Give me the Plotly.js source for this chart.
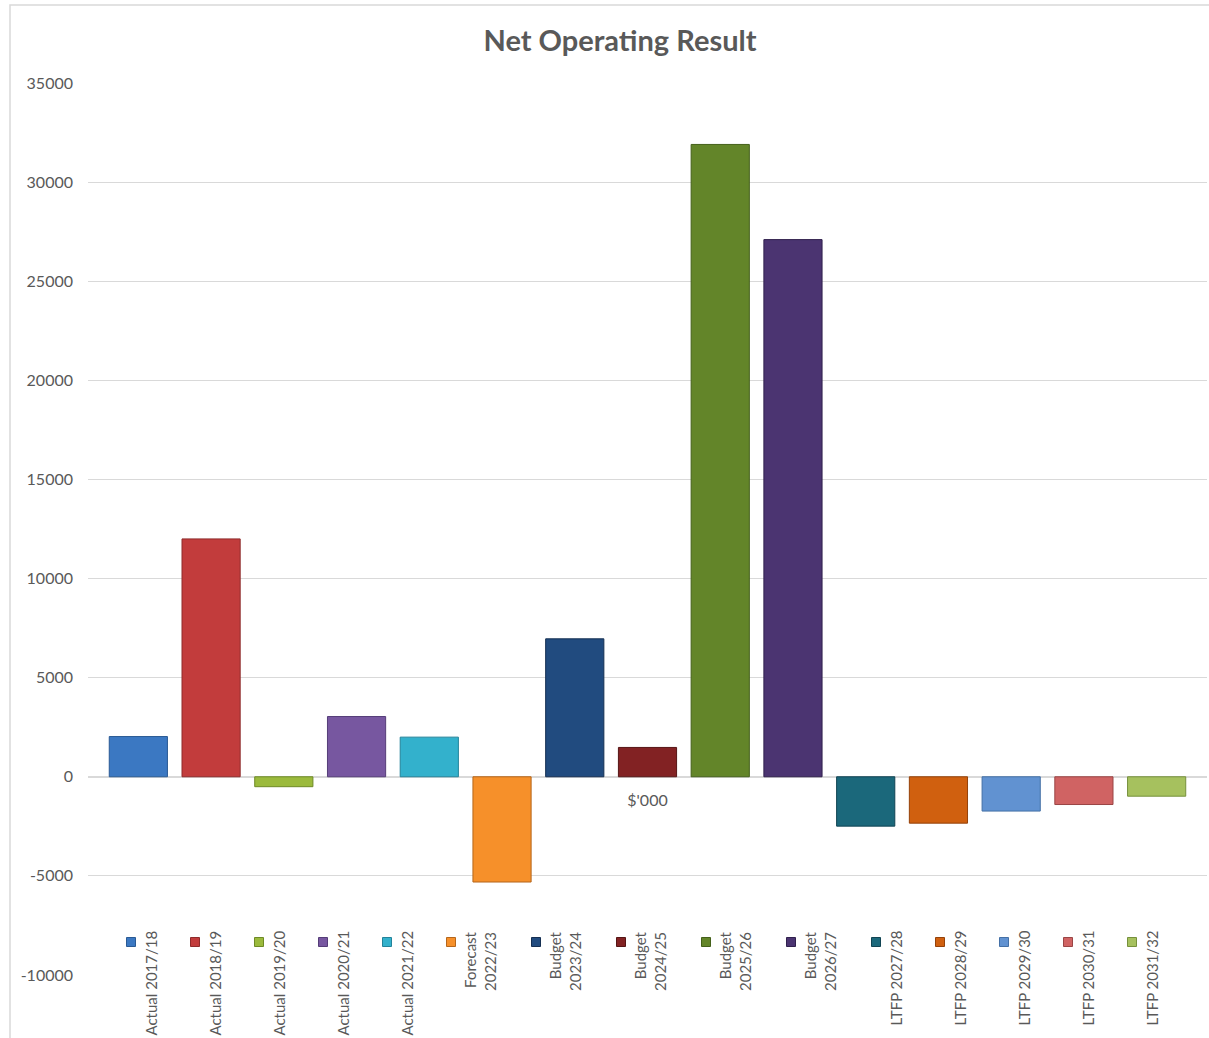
<!DOCTYPE html>
<html>
<head>
<meta charset="utf-8">
<script src="https://cdn.plot.ly/plotly-3.0.1.min.js"></script>
<style>
  html, body { margin: 0; padding: 0; background: #ffffff; overflow: hidden; }
  #chart { width: 1209px; height: 1038px; }
</style>
</head>
<body>
<div id="chart"></div>
<script>
// ---- data ----
const chartTitle = 'Net Operating Result';
const category = ["$'000"];
const seriesNames = [
  'Actual 2017/18', 'Actual 2018/19', 'Actual 2019/20', 'Actual 2020/21', 'Actual 2021/22',
  'Forecast<br>2022/23', 'Budget<br>2023/24', 'Budget<br>2024/25', 'Budget<br>2025/26', 'Budget<br>2026/27',
  'LTFP 2027/28', 'LTFP 2028/29', 'LTFP 2029/30', 'LTFP 2030/31', 'LTFP 2031/32'
];
const seriesValues = [2030, 12000, -500, 3040, 2000, -5310, 6960, 1480, 31900, 27100, -2490, -2340, -1730, -1400, -980];
const yTickVals = [-10000, -5000, 0, 5000, 10000, 15000, 20000, 25000, 30000, 35000];
const yTickText = ['-10000', '-5000', '0', '5000', '10000', '15000', '20000', '25000', '30000', '35000'];

// ---- styles ----
const fillColors = [
  '#3B78C2', '#C23C3C', '#9BBA3C', '#7757A0', '#33B1CC',
  '#F6902A', '#214B7F', '#822223', '#638529', '#4B3471',
  '#1B687B', '#D0600F', '#6192D1', '#D06363', '#A6C15E'
];
const edgeColors = [
  '#2A5A94', '#8E2B2B', '#6E8A26', '#553D78', '#23839A',
  '#B5661B', '#152F52', '#551515', '#44601A', '#30204D',
  '#114453', '#94420A', '#4470A6', '#9A4545', '#76903C'
];
const grey = '#595959';
const gridGrey = '#D9D9D9';
const fontFam = 'Lato, "Open Sans", "Liberation Sans", sans-serif';

// ---- geometry (pixels) ----
const W = 1209, H = 1038;
const plotL = 88, plotR = 1207, plotT = 83, plotB = 975;
const pxX = px => (px - plotL) / (plotR - plotL);
const pxY = py => (plotB - py) / (plotB - plotT);

// ---- traces ----
const traces = seriesNames.map((name, i) => ({
  type: 'bar',
  name: name.replace('<br>', ' '),
  x: category,
  y: [seriesValues[i]],
  marker: { color: fillColors[i], line: { color: edgeColors[i], width: 1 } },
  showlegend: false,
  hoverinfo: 'name+y'
}));

// ---- custom legend (rotated labels, as in the reference) ----
const annotations = [];
const shapes = [];
let markerX = 131;
seriesNames.forEach((name, i) => {
  const lines = name.split('<br>').length;
  const textCenter = markerX + (lines === 1 ? 19 : 29);
  shapes.push({
    type: 'rect', xref: 'paper', yref: 'paper',
    x0: pxX(markerX - 4.5), x1: pxX(markerX + 4.5),
    y0: pxY(946.5), y1: pxY(937.5),
    fillcolor: fillColors[i], line: { color: edgeColors[i], width: 1 }
  });
  annotations.push({
    xref: 'paper', yref: 'paper',
    x: pxX(textCenter), y: pxY(929),
    xanchor: 'center', yanchor: 'top',
    text: name, textangle: -90, align: 'right',
    showarrow: false,
    font: { family: fontFam, size: 15, color: grey }
  });
  markerX += (lines === 1 ? 64 : 85);
});

// chart-area border (cropped on the right and bottom like the reference)
shapes.push({
  type: 'rect', xref: 'paper', yref: 'paper', layer: 'below',
  x0: pxX(10), x1: pxX(1240), y0: pxY(1070), y1: pxY(5),
  line: { color: gridGrey, width: 1.5 }, fillcolor: 'rgba(0,0,0,0)'
});

const layout = {
  width: W, height: H, autosize: false,
  margin: { l: plotL, r: W - plotR, t: plotT, b: H - plotB, pad: 0 },
  paper_bgcolor: '#ffffff', plot_bgcolor: '#ffffff',
  font: { family: fontFam, size: 16, color: grey },
  title: {
    text: '<b>' + chartTitle + '</b>',
    xref: 'paper', x: pxX(620), xanchor: 'center',
    yref: 'container', y: 1 - 41 / H, yanchor: 'middle',
    font: { family: fontFam, size: 29, color: grey }
  },
  barmode: 'group', bargap: 0.025, bargroupgap: 0.2,
  xaxis: {
    type: 'category', anchor: 'free', position: pxY(777),
    showgrid: false, showline: false, zeroline: false, ticks: '',
    ticklabelstandoff: 12,
    tickfont: { family: fontFam, size: 16, color: grey },
    fixedrange: true
  },
  yaxis: {
    range: [-10000, 35000],
    tickvals: yTickVals, ticktext: yTickText,
    showgrid: true, gridcolor: gridGrey, gridwidth: 1,
    zeroline: true, zerolinecolor: gridGrey, zerolinewidth: 1.5,
    showline: false, ticks: '',
    ticklabelstandoff: 14,
    tickfont: { family: fontFam, size: 16, color: grey },
    fixedrange: true
  },
  shapes: shapes,
  annotations: annotations,
  showlegend: false
};

Plotly.newPlot('chart', traces, layout, { displayModeBar: false, staticPlot: true });
</script>
</body>
</html>
